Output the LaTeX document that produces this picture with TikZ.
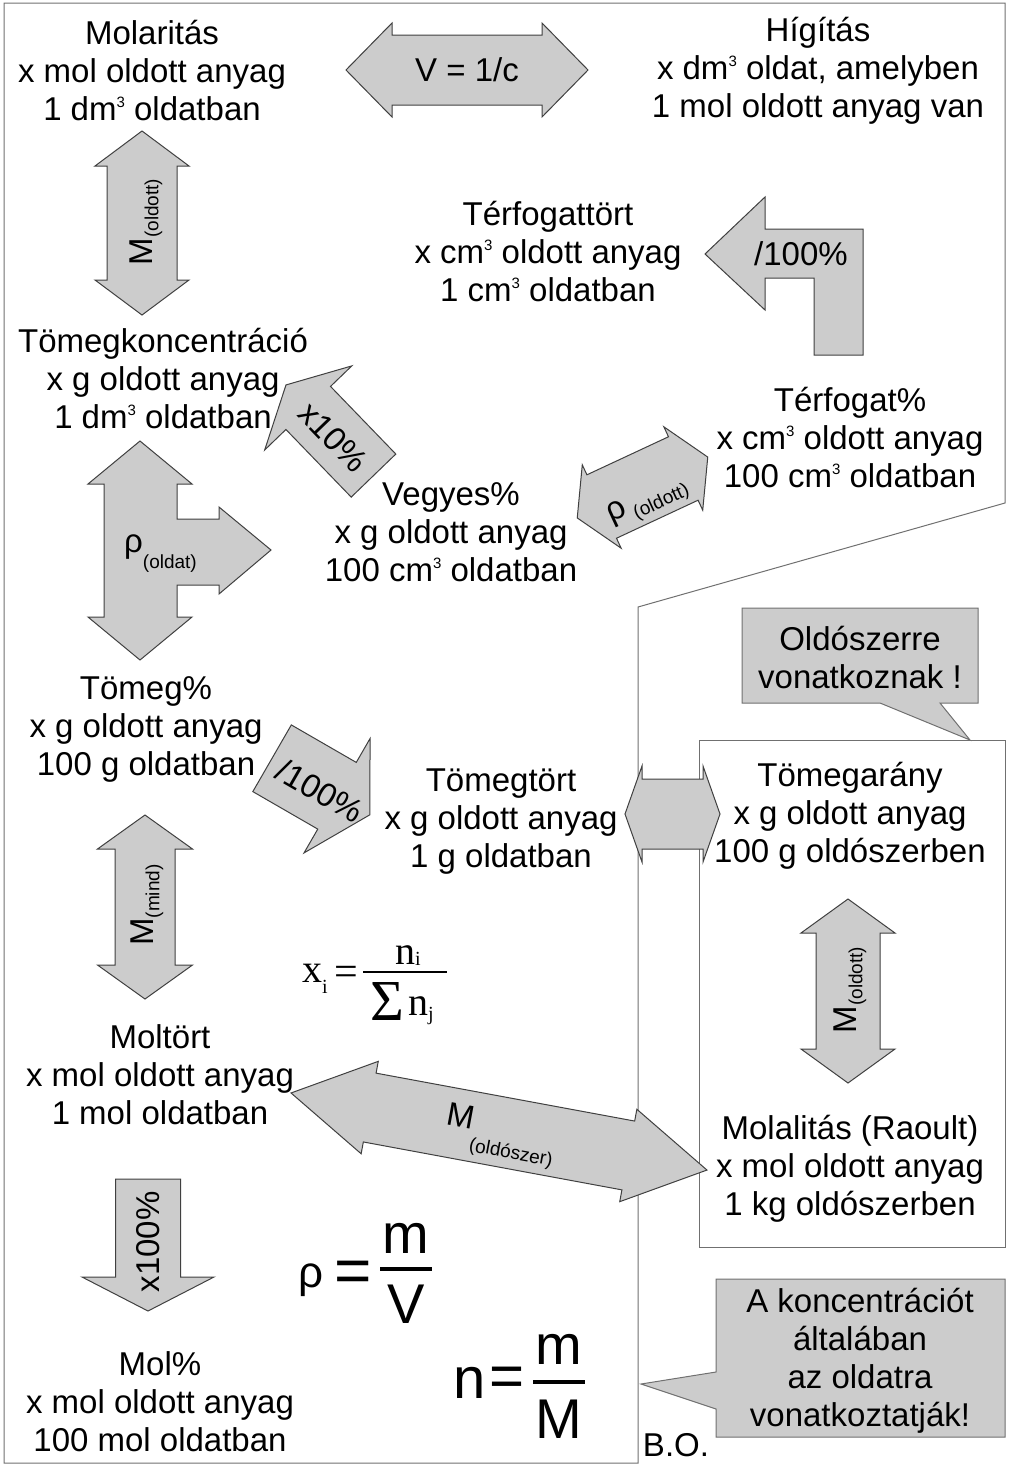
\documentclass[tikz,border=0pt]{standalone}
\usepackage{fontspec}
\setmainfont{Liberation Sans}
\newfontfamily\seriffont{Liberation Serif}
\definecolor{arrfill}{HTML}{CCCCCC}
\definecolor{arrline}{HTML}{404040}
\definecolor{frameline}{HTML}{707070}
\newcommand\cube{\raisebox{13pt}{\fontsize{15}{15}\selectfont 3}}
\newcommand\subtxt[2]{\raisebox{#1}{\fontsize{19}{19}\selectfont #2}}
\newcommand\DArrow[7]{%
 \begin{scope}[shift={(#1,#2)},rotate=#3]
 \draw[blockarrow] (-#4,0) -- ({-#4+#7},-#6) -- ({-#4+#7},-#5) -- ({#4-#7},-#5) -- ({#4-#7},-#6) -- (#4,0) -- ({#4-#7},#6) -- ({#4-#7},#5) -- ({-#4+#7},#5) -- ({-#4+#7},#6) -- cycle;
 \end{scope}}
\newcommand\SArrow[7]{%
 \begin{scope}[shift={(#1,#2)},rotate=#3]
 \draw[blockarrow] (-#4,-#5) -- ({#4-#7},-#5) -- ({#4-#7},-#6) -- (#4,0) -- ({#4-#7},#6) -- ({#4-#7},#5) -- (-#4,#5) -- cycle;
 \end{scope}}
\tikzset{
 blockarrow/.style={fill=arrfill, draw=arrline, line width=1pt, line join=miter},
 frame/.style={draw=frameline, line width=1pt},
 callout/.style={fill=arrfill, draw=frameline, line width=1pt},
 info/.style={align=center, font=\fontsize{33}{38}\selectfont, inner sep=0pt},
 lbl/.style={font=\fontsize{33}{38}\selectfont, inner sep=0pt},
 serifbig/.style={font=\seriffont\fontsize{40}{40}\selectfont, inner sep=0pt},
}
\begin{document}
\begin{tikzpicture}[x=1pt,y=-1pt]
\useasboundingbox (0,0) rectangle (1024,1481);
% frames
\draw[frame] (4,3) -- (1005,3) -- (1005,503) -- (638,607) -- (638,1463) -- (4,1463) -- cycle;
\draw[frame] (699,740) rectangle (1005,1247);
\draw[callout] (742,608) -- (978,608) -- (978,703) -- (940,703) -- (970,740) -- (880,703) -- (742,703) -- cycle;
\draw[callout] (716,1279) -- (1005,1279) -- (1005,1437) -- (716,1437) -- (716,1409) -- (641,1384) -- (716,1372) -- cycle;
% arrows
\DArrow{467}{70}{0}{121}{35}{47}{46}
\DArrow{142}{223}{90}{92}{35}{47}{35}
\DArrow{145}{907}{90}{92}{30}{47.5}{34}
\DArrow{848}{991}{90}{92}{32}{47}{34}
\DArrow{642.5}{487.5}{25}{72}{35}{46}{27}
\DArrow{672.5}{814}{0}{47.5}{35}{48}{17}
\DArrow{499}{1131.5}{-10.5}{211.5}{35}{47}{80}
\SArrow{321}{786.5}{-30}{56.5}{38.5}{66}{38}
\SArrow{148}{1245}{-90}{66}{32.5}{66}{34}
\SArrow{329.75}{430.25}{134}{63}{31}{60.5}{32}
\draw[blockarrow] (705,254) -- (765,197) -- (765,229) -- (863,229) -- (863,355) -- (814,355) -- (814,278) -- (765,278) -- (765,310) -- cycle;
\draw[blockarrow] (140,441) -- (192,484) -- (177,484) -- (177,519) -- (219,519) -- (219,507) -- (271,550) -- (219,594) -- (219,585) -- (177,585) -- (177,617) -- (192,617) -- (140,660) -- (88,617) -- (104,617) -- (104,484) -- (88,484) -- cycle;
% arrow labels
\node[lbl] (lv) at (467,70) {V = 1/c};
\node[lbl,rotate=90] (lmo) at (146,222) {M\subtxt{-6pt}{(oldott)}};
\node[lbl,rotate=90] (lmm) at (147,905) {M\subtxt{-6pt}{(mind)}};
\node[lbl,rotate=90] (lmo2) at (850,990) {M\subtxt{-6pt}{(oldott)}};
\node[lbl,rotate=90] (lx100) at (148,1242) {x100\%};
\node[lbl] (lp100) at (801,254) {/100\%};
\node[lbl,rotate=-46] (lx10) at (333,437) {x10\%};
\node[lbl,rotate=-30] (lp100b) at (320,791) {/100\%};
\node[lbl,anchor=base west] (lro) at (124,552) {ρ\subtxt{-16pt}{(oldat)}};
\node[lbl,rotate=25] (lro2) at (648,502) {ρ\,\subtxt{-8pt}{(oldott)}};
\node[lbl,rotate=-10.5] (lmsz) at (500,1136) {M\subtxt{-22pt}{(oldószer)}};
% text blocks
\node[info] (molaritas) at (152,71) {Molaritás\\x mol oldott anyag\\1 dm\cube{} oldatban};
\node[info] (higitas) at (818,71) {Hígítás\\x dm\cube{} oldat, amelyben\\1 mol oldott anyag van};
\node[info] (terfogattort) at (548,252) {Térfogattört\\x cm\cube{} oldott anyag\\1 cm\cube{} oldatban};
\node[info] (tomegkonc) at (163,379) {Tömegkoncentráció\\x g oldott anyag\\1 dm\cube{} oldatban};
\node[info] (terfogatsz) at (850,438) {Térfogat\%\\x cm\cube{} oldott anyag\\100 cm\cube{} oldatban};
\node[info] (vegyes) at (451,532) {Vegyes\%\\x g oldott anyag\\100 cm\cube{} oldatban};
\node[info] (tomegsz) at (146,729) {Tömeg\%\\x g oldott anyag\\100 g oldatban};
\node[info] (tomegtort) at (501,822) {Tömegtört\\x g oldott anyag\\1 g oldatban};
\node[info] (tomegarany) at (850,816) {Tömegarány\\x g oldott anyag\\100 g oldószerben};
\node[info] (moltort) at (160,1075) {Moltört\\x mol oldott anyag\\1 mol oldatban};
\node[info] (molalitas) at (850,1169) {Molalitás (Raoult)\\x mol oldott anyag\\1 kg oldószerben};
\node[info] (molsz) at (160,1402) {Mol\%\\x mol oldott anyag\\100 mol oldatban};
\node[info] (call1) at (860,658) {Oldószerre\\vonatkoznak !};
\node[info] (call2) at (860,1361) {A koncentrációt\\általában\\az oldatra\\vonatkoztatják!};
\node[lbl] (bo) at (676,1445) {B.O.};
% formula x_i
\node[serifbig,anchor=base west] (xi) at (302,982) {x\raisebox{-11pt}{\fontsize{20}{20}\selectfont i}};
\node[inner sep=0pt,font=\seriffont\fontsize{42}{42}\selectfont] (eqx) at (346,976) {=};
\draw[line width=2.5pt] (363,972) -- (447,972);
\node[serifbig,anchor=base west] (ni) at (395,964) {n\raisebox{-1pt}{\fontsize{20}{20}\selectfont i}};
\node[inner sep=0pt,font=\seriffont\fontsize{58}{58}\selectfont] (sig) at (387,1001) {Σ};
\node[serifbig,anchor=base west] (nj) at (408,1015) {n\raisebox{-5pt}{\fontsize{20}{20}\selectfont j}};
% formula rho
\node[inner sep=0pt,font=\fontsize{44}{44}\selectfont] (rho) at (311,1280) {ρ};
\node[inner sep=0pt,font=\fontsize{64}{64}\selectfont] (eqr) at (353,1277) {=};
\draw[line width=4pt] (380,1269) -- (432,1269);
\node[inner sep=0pt,font=\fontsize{56}{56}\selectfont] (mr) at (406,1238) {m};
\node[inner sep=0pt,font=\fontsize{56}{56}\selectfont] (vr) at (406,1304) {V};
% formula n
\node[inner sep=0pt,font=\fontsize{58}{58}\selectfont] (nn) at (470,1383) {n};
\node[inner sep=0pt,font=\fontsize{60}{60}\selectfont] (eqn) at (507,1382) {=};
\draw[line width=4pt] (533,1382) -- (585,1382);
\node[inner sep=0pt,font=\fontsize{56}{56}\selectfont] (mn) at (559,1349) {m};
\node[inner sep=0pt,font=\fontsize{56}{56}\selectfont] (Mn) at (559,1419) {M};
\end{tikzpicture}
\end{document}
